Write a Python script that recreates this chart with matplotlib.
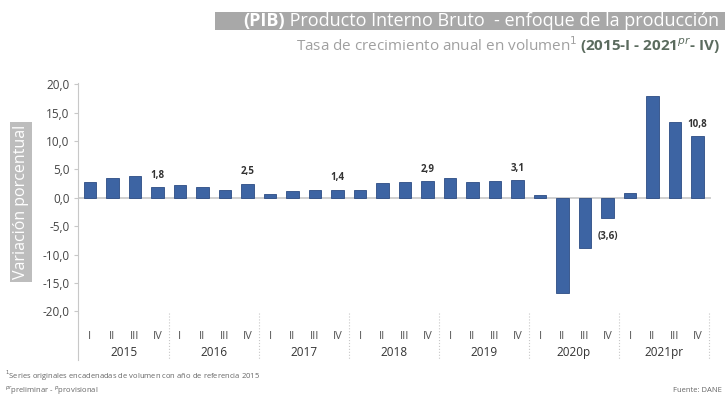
import matplotlib
matplotlib.use("Agg")
import matplotlib.pyplot as plt
from matplotlib.patches import Rectangle

# PIB - tasa de crecimiento anual en volumen, 2015-I a 2021-IV
years = ["2015", "2016", "2017", "2018", "2019", "2020p", "2021pr"]
quarters = ["I", "II", "III", "IV"]
growth = [2.8, 3.5, 3.8, 1.8,
          2.2, 1.9, 1.4, 2.5,
          0.6, 1.2, 1.4, 1.4,
          1.3, 2.6, 2.8, 2.9,
          3.5, 2.7, 3.0, 3.1,
          0.5, -16.8, -8.9, -3.6,
          0.8, 17.9, 13.4, 10.8]
yticks = [-20, -15, -10, -5, 0, 5, 10, 15, 20]

W, H = 725, 404
BAR = "#3d64a3"
GRID = "#c8c8c8"
NARROW = ["Liberation Sans Narrow", "Open Sans"]


def fx(px):
    return px / W


def fy(py):
    return 1 - py / H


def fmt(v):
    s = f"{abs(v):.1f}".replace(".", ",")
    return f"({s})" if v < 0 else s


fig = plt.figure(figsize=(W / 100, H / 100), dpi=100)
fig.patch.set_facecolor("white")
ax = fig.add_axes([fx(78), fy(313), fx(711) - fx(78), fy(83) - fy(313)])

x = list(range(len(growth)))
ax.bar(x, growth, width=0.55, color=BAR, edgecolor="#2c4c84", linewidth=0.6, zorder=3)
ax.axhline(0, color=GRID, lw=1.2, zorder=2)

# etiquetas del cuarto trimestre de cada año
for i in range(3, len(growth), 4):
    v = growth[i]
    off = 12 if v >= 0 else -18
    ax.annotate(fmt(v), (i, v), xytext=(0, off), textcoords="offset pixels",
                ha="center", va="center", fontsize=7, fontweight="bold",
                color="#333333", family=NARROW)

ax.set_xlim(-0.53, 27.6)
ax.set_ylim(-20.3, 20.2)
ax.set_yticks(yticks)
ax.set_yticklabels([f"{t:.1f}".replace(".", ",") for t in yticks],
                   fontsize=8.5, color="#444444", family=NARROW)
ax.tick_params(axis="y", length=3, color=GRID, pad=3)
ax.set_xticks([])
for s in ["top", "right", "bottom"]:
    ax.spines[s].set_visible(False)
ax.spines["left"].set_color(GRID)

# eje de categorías: trimestres y años
tr = ax.get_xaxis_transform()
for i in x:
    ax.text(i, -0.104, quarters[i % 4], transform=tr, ha="center", va="center",
            fontsize=8, color="#555555", family=NARROW)
for k, yr in enumerate(years):
    ax.text(4 * k + 1.5, -0.17, yr, transform=tr, ha="center", va="center",
            fontsize=8.5, color="#333333", family=NARROW)
for sep in [-0.53] + [4 * k + 3.5 for k in range(len(years))]:
    ax.plot([sep, sep], [0, -0.205], transform=tr, color=GRID, lw=0.8,
            ls=":" if sep > 0 else "-", clip_on=False)

# título en banda gris
fig.patches.append(Rectangle((fx(215), fy(30)), fx(725) - fx(215), fy(12) - fy(30),
                             transform=fig.transFigure, facecolor="#a8a8a8", edgecolor="none"))
r = fig.canvas.get_renderer()
t1 = fig.text(fx(243), fy(21), "(PIB)", ha="left", va="center", fontsize=13,
              fontweight="bold", color="white", family="Open Sans")
w1 = t1.get_window_extent(r).width
fig.text(fx(243 + w1), fy(21), " Producto Interno Bruto  - enfoque de la producción",
         ha="left", va="center", fontsize=13, color="white", family="Open Sans")

t2 = fig.text(fx(720), fy(46), "(2015-I - 2021$^{pr}$- IV)", ha="right", va="center",
              fontsize=11, fontweight="bold", color="#5b6b5e", family="Open Sans")
w2 = t2.get_window_extent(r).width
fig.text(fx(720 - w2 - 3), fy(46), "Tasa de crecimiento anual en volumen$^{1}$",
         ha="right", va="center", fontsize=11, color="#a0a0a0", family="Open Sans")

# etiqueta del eje y
fig.text(fx(21), fy(202), "Variación porcentual", rotation=90, ha="center", va="center",
         fontsize=11.5, color="white", family="Open Sans",
         bbox=dict(boxstyle="square,pad=0.2", fc="#bdbdbd", ec="none"))

# notas
fig.text(fx(5), fy(376), "$^{1}$Series originales encadenadas de volumen con año de referencia 2015",
         ha="left", va="center", fontsize=5.5, color="#666666", family="Open Sans")
fig.text(fx(5), fy(390), "$^{pr}$preliminar - $^{p}$provisional",
         ha="left", va="center", fontsize=5.5, color="#666666", family="Open Sans")
fig.text(fx(722), fy(390), "Fuente: DANE", ha="right", va="center",
         fontsize=5.5, color="#666666", family="Open Sans")

fig.savefig("out.png", dpi=100, facecolor="white")
